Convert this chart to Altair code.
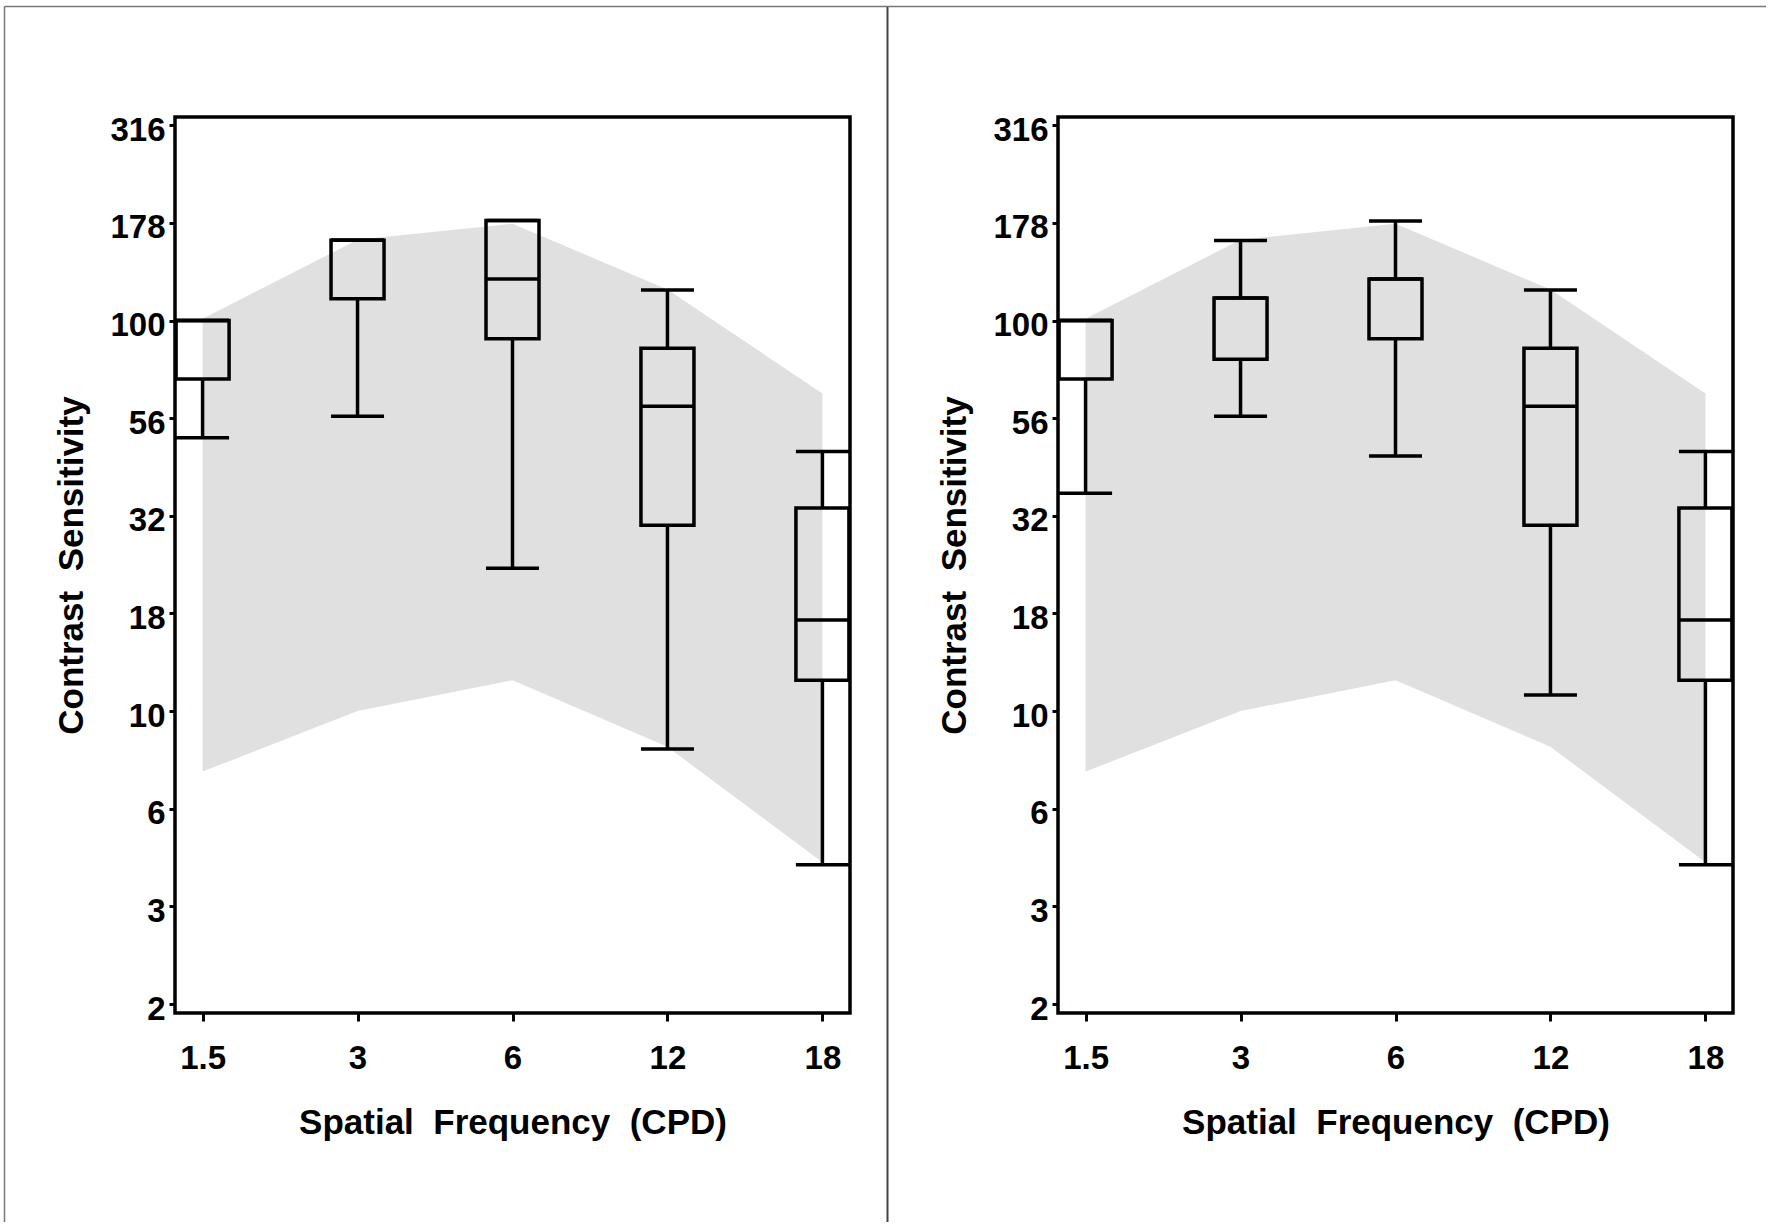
import json
import altair as alt
import pandas as pd

# ---------------- data ----------------
freq_labels = ["1.5", "3", "6", "12", "18"]

# gray normative band (upper / lower limits)
band_upper = [101, 161, 177, 120, 65]
band_lower = [7.0, 10.0, 12.0, 8.1, 4.1]

# left panel box plots
p1_min = [50.1, 56.9, 23.2, 8.0, 4.04]
p1_q1 = [70.8, 113.7, 89.8, 29.9, 12.0]
p1_med = [100, 160.6, 127.7, 60.3, 17.1]
p1_q3 = [100, 160.6, 180.3, 84.9, 33.1]
p1_max = [100, 160.6, 180.3, 119.7, 46.2]

# right panel box plots
p2_min = [36.1, 56.9, 45.0, 11.0, 4.04]
p2_q1 = [70.8, 79.6, 89.8, 29.9, 12.0]
p2_med = [100, 114.2, 127.7, 60.3, 17.1]
p2_q3 = [100, 114.2, 127.7, 84.9, 33.1]
p2_max = [100, 160.2, 179.9, 119.7, 46.2]

y_tick_values = [1.778, 3.162, 5.623, 10, 17.78, 31.62, 56.23, 100, 177.8, 316.2]
y_tick_labels = ["2", "3", "6", "10", "18", "32", "56", "100", "178", "316"]
y_domain = [1.687, 331.9]

x_title = "Spatial\u00a0\u00a0Frequency\u00a0\u00a0(CPD)"
y_title = "Contrast\u00a0\u00a0Sensitivity"

W, H = 675, 896
BOX_W = 53
LW = 3.5

y_label_expr = "{}[indexof({}, datum.value)]".format(
    json.dumps(y_tick_labels), json.dumps(y_tick_values))

x_axis = alt.Axis(labelAngle=0, tickSize=8, labelPadding=47,
                  labelBaseline="alphabetic", titleY=120,
                  titleBaseline="alphabetic")
y_axis = alt.Axis(values=y_tick_values, labelExpr=y_label_expr, tickSize=6,
                  labelPadding=4, labelBaseline="alphabetic", labelOffset=15,
                  labelFlush=False, titleAngle=270, titleX=-104, titleY=H / 2,
                  titleBaseline="middle", titleAlign="center")
x_scale = alt.Scale(type="point", padding=0.178)
y_scale = alt.Scale(type="log", domain=y_domain, nice=False)


def X():
    return alt.X("freq:O", sort=freq_labels, scale=x_scale, axis=x_axis,
                 title=x_title)


def Y(field):
    return alt.Y(field + ":Q", scale=y_scale, axis=y_axis, title=y_title)


def panel(mins, q1s, meds, q3s, maxs, left_color, left_width, top_end):
    band_df = pd.DataFrame({"freq": freq_labels, "upper": band_upper,
                            "lower": band_lower})
    box_df = pd.DataFrame({"freq": freq_labels, "vmin": mins, "q1": q1s,
                           "med": meds, "q3": q3s, "vmax": maxs})
    one = pd.DataFrame({"k": [0]})

    band = alt.Chart(band_df).mark_area(color="#e0e0e0", opacity=1).encode(
        x=X(), y=Y("upper"), y2="lower:Q")
    whisk_hi = alt.Chart(box_df).mark_rule(color="black", strokeWidth=LW).encode(
        x=X(), y=Y("q3"), y2="vmax:Q")
    whisk_lo = alt.Chart(box_df).mark_rule(color="black", strokeWidth=LW).encode(
        x=X(), y=Y("vmin"), y2="q1:Q")
    box = alt.Chart(box_df).mark_bar(filled=False, color="black", opacity=1,
                                     strokeWidth=LW, size=BOX_W).encode(
        x=X(), y=Y("q1"), y2="q3:Q")
    ticks = alt.Chart(box_df).transform_fold(
        ["vmin", "vmax", "med"], as_=["stat", "val"]
    ).mark_tick(color="black", opacity=1, size=BOX_W, thickness=LW).encode(
        x=X(), y=Y("val"))

    left = alt.Chart(one).mark_rule(color=left_color, strokeWidth=left_width).encode(
        x=alt.value(-170.5), y=alt.value(-110.5), y2=alt.value(1105))
    top = alt.Chart(one).mark_rule(color="#777777", strokeWidth=1.5).encode(
        x=alt.value(-170.5), x2=alt.value(top_end), y=alt.value(-110.5))

    return alt.layer(band, whisk_hi, whisk_lo, box, ticks, left, top).properties(
        width=W, height=H)


p1 = panel(p1_min, p1_q1, p1_med, p1_q3, p1_max, "#777777", 1.5, 712.5)
p2 = panel(p2_min, p2_q1, p2_med, p2_q3, p2_max, "#444444", 2, 708)

chart = alt.hconcat(p1, p2).properties(
    spacing=208, bounds="flush",
    padding={"left": 2, "top": 3, "right": 0, "bottom": 0},
).configure(background="white", font="Liberation Sans").configure_view(
    stroke="black", strokeWidth=LW
).configure_axis(
    grid=False, domain=False,
    labelFont="Liberation Sans", labelFontWeight="bold", labelFontSize=33,
    labelColor="black",
    titleFont="Liberation Sans", titleFontWeight="bold", titleFontSize=35,
    titleColor="black",
    tickColor="black", tickWidth=3,
)

chart.save("out.html", embed_options={"renderer": "svg", "actions": False})
